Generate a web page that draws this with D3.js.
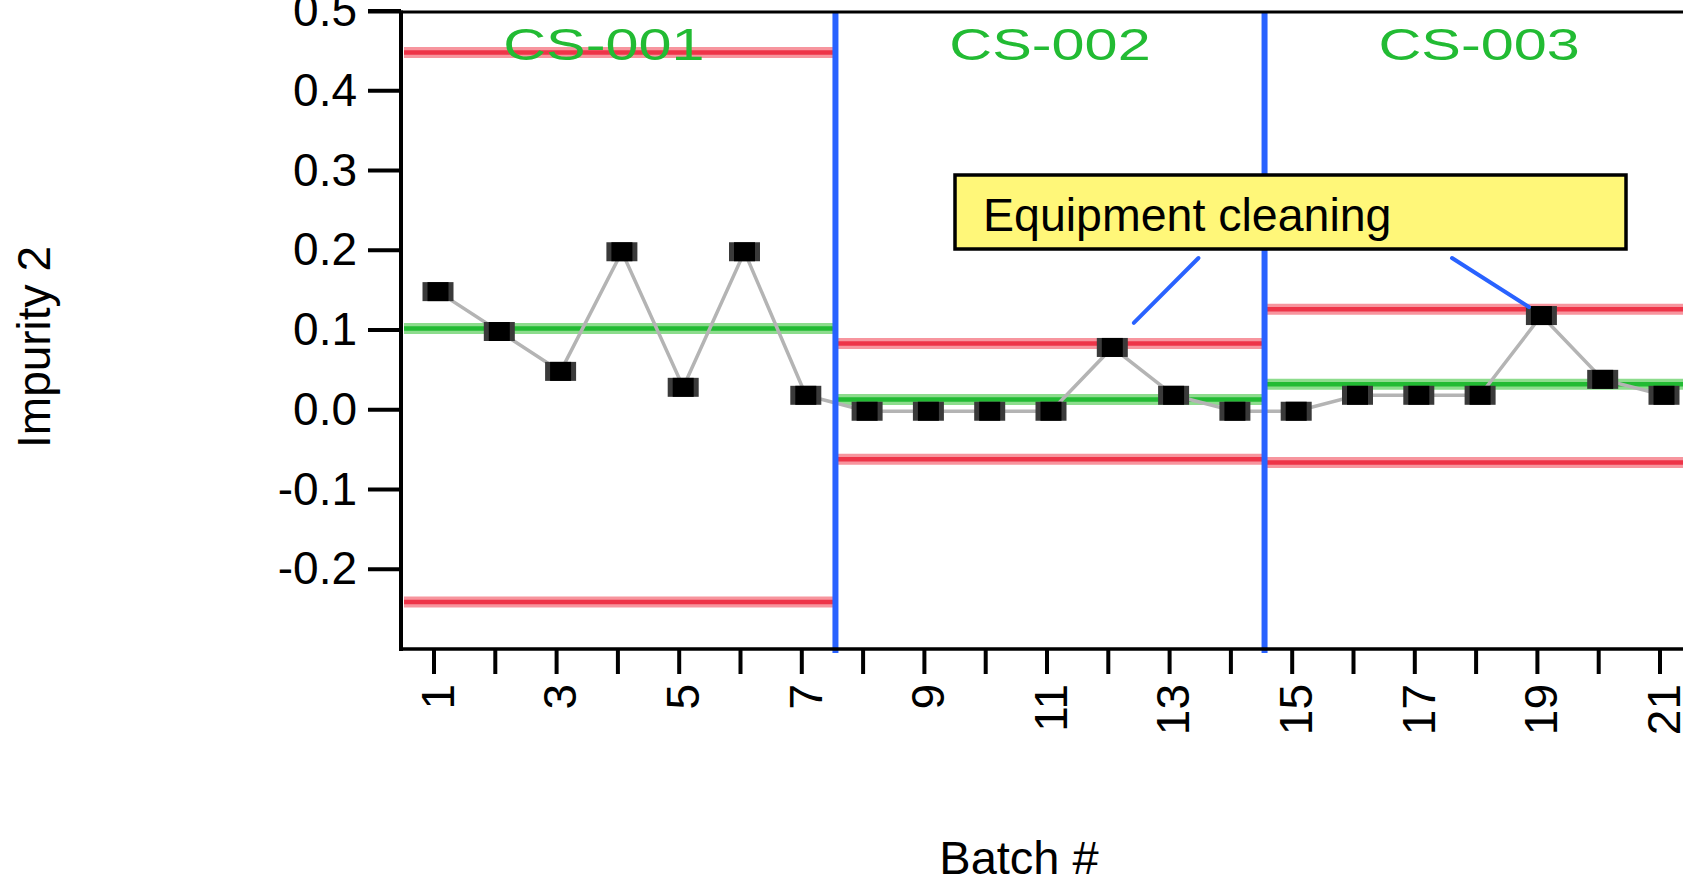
<!DOCTYPE html>
<html>
<head>
<meta charset="utf-8">
<script src="https://cdn.jsdelivr.net/npm/d3@7"></script>
<style>
  html, body { margin: 0; padding: 0; background: #fff; overflow: hidden; }
  svg { display: block; }
  text { font-family: "Liberation Sans", Arial, sans-serif; }
</style>
</head>
<body>
<svg id="chart" width="1683" height="877"></svg>
<script>

// batch numbers and measured impurity 2 values
const batches  = [1, 2, 3, 4, 5, 6, 7, 8, 9, 10, 11, 12, 13, 14, 15, 16, 17, 18, 19, 20, 21];
const impurity = [0.15, 0.10, 0.05, 0.20, 0.03, 0.20, 0.02,
                  0.00, 0.00, 0.00, 0.00, 0.08, 0.02, 0.00,
                  0.00, 0.02, 0.02, 0.02, 0.12, 0.04, 0.02];

// campaigns (limits per campaign)
const campaigns     = ['CS-001', 'CS-002', 'CS-003'];
const campaignStart = [0.5, 7.5, 14.5];
const campaignEnd   = [7.5, 14.5, 22.5];
const centerLine    = [0.102, 0.013, 0.032];
const upperLimit    = [0.448, 0.083, 0.126];
const lowerLimit    = [-0.241, -0.062, -0.066];

// axis ticks
const yTicks      = [-0.2, -0.1, 0.0, 0.1, 0.2, 0.3, 0.4, 0.5];
const xTicks      = batches;
const xTickLabels = [1, 3, 5, 7, 9, 11, 13, 15, 17, 19, 21];

// annotation
const noteText    = 'Equipment cleaning';
const noteBatches = [12, 19];

const W = 1683, H = 877;
const axisLeft = 401, axisBottom = 649, axisTop = 12;

const blue  = '#2962ff';
const green = '#22bb33';

const x = d3.scaleLinear().domain([1, 21]).range([434, 1660]);
const y = d3.scaleLinear().domain([-0.3, 0.5]).range([649, 11]);

const svg = d3.select('#chart');

//#region campaign limit lines
function limitLine(vals, core, halo) {
    campaigns.forEach((c, i) => {
        let x1 = i === 0 ? axisLeft + 3 : x(campaignStart[i]) + 3;
        let x2 = x(campaignEnd[i]) + 3;
        svg.append('line')
            .attr('x1', x1).attr('x2', x2)
            .attr('y1', y(vals[i])).attr('y2', y(vals[i]))
            .attr('stroke', halo).attr('stroke-width', 11);
        svg.append('line')
            .attr('x1', x1).attr('x2', x2)
            .attr('y1', y(vals[i])).attr('y2', y(vals[i]))
            .attr('stroke', core).attr('stroke-width', 4.5);
    });
}
limitLine(upperLimit, '#ee3448', '#f7959e');
limitLine(lowerLimit, '#ee3448', '#f7959e');
limitLine(centerLine, green, '#8ddc8d');
//#endregion

//#region data line and markers
const pts = svg.append('g').attr('transform', 'translate(4,1.5)');

pts.append('path')
    .datum(batches)
    .attr('fill', 'none')
    .attr('stroke', '#b4b4b4')
    .attr('stroke-width', 3.5)
    .attr('d', d3.line().x(d => x(d)).y((d, i) => y(impurity[i])));

pts.selectAll('.mk-out')
    .data(batches)
    .join('rect')
    .attr('x', d => x(d) - 15.5)
    .attr('y', (d, i) => y(impurity[i]) - 9.5)
    .attr('width', 31).attr('height', 19)
    .attr('fill', '#3a3a3a');

pts.selectAll('.mk-in')
    .data(batches)
    .join('rect')
    .attr('x', d => x(d) - 10.5)
    .attr('y', (d, i) => y(impurity[i]) - 9.5)
    .attr('width', 21).attr('height', 19)
    .attr('fill', '#000');
//#endregion

//#region campaign separators
campaignStart.slice(1).forEach(b => {
    svg.append('line')
        .attr('x1', x(b) + 3).attr('x2', x(b) + 3)
        .attr('y1', axisTop).attr('y2', 653)
        .attr('stroke', blue).attr('stroke-width', 6);
});
//#endregion

//#region axes
// top frame
svg.append('line')
    .attr('x1', 368).attr('x2', W)
    .attr('y1', axisTop).attr('y2', axisTop)
    .attr('stroke', '#000').attr('stroke-width', 3);

// y axis
svg.append('line')
    .attr('x1', axisLeft).attr('x2', axisLeft)
    .attr('y1', axisTop - 1.5).attr('y2', axisBottom + 2)
    .attr('stroke', '#000').attr('stroke-width', 4);

svg.selectAll('.ytick')
    .data(yTicks)
    .join('line')
    .attr('x1', 368).attr('x2', axisLeft)
    .attr('y1', d => y(d)).attr('y2', d => y(d))
    .attr('stroke', '#000').attr('stroke-width', 4);

svg.selectAll('.ylab')
    .data(yTicks)
    .join('text')
    .attr('x', 357)
    .attr('y', d => y(d))
    .attr('dy', '0.33em')
    .attr('text-anchor', 'end')
    .attr('font-size', 46)
    .text(d => d3.format('.1f')(d).replace('−', '-'));

// x axis
svg.append('line')
    .attr('x1', axisLeft - 2).attr('x2', W)
    .attr('y1', axisBottom).attr('y2', axisBottom)
    .attr('stroke', '#000').attr('stroke-width', 3.5);

svg.selectAll('.xtick')
    .data(xTicks)
    .join('line')
    .attr('x1', d => x(d)).attr('x2', d => x(d))
    .attr('y1', axisBottom).attr('y2', 674)
    .attr('stroke', '#000').attr('stroke-width', 4);

svg.selectAll('.xlab')
    .data(xTickLabels)
    .join('text')
    .attr('transform', d => `translate(${x(d)},684) rotate(-90)`)
    .attr('dy', '0.43em')
    .attr('text-anchor', 'end')
    .attr('font-size', 46)
    .text(d => d);

// axis titles
svg.append('text')
    .attr('transform', 'translate(50,347) rotate(-90)')
    .attr('text-anchor', 'middle')
    .attr('font-size', 46)
    .text('Impurity 2');

svg.append('text')
    .attr('x', 1019).attr('y', 874)
    .attr('text-anchor', 'middle')
    .attr('font-size', 47)
    .text('Batch #');
//#endregion

//#region annotation
svg.append('rect')
    .attr('x', 955).attr('y', 175)
    .attr('width', 671).attr('height', 74)
    .attr('fill', '#fff779')
    .attr('stroke', '#000').attr('stroke-width', 3.5);

svg.append('text')
    .attr('x', 983).attr('y', 231)
    .attr('font-size', 46.5)
    .text(noteText);

// callout lines from box to the flagged batches
const noteFrom = [[1198.5, 258], [1452, 258]];
const noteOff  = [[21.5, -24.5], [-12.5, -8.5]];
noteBatches.forEach((b, i) => {
    let v = impurity[batches.indexOf(b)];
    svg.append('line')
        .attr('x1', noteFrom[i][0]).attr('y1', noteFrom[i][1])
        .attr('x2', x(b) + 4 + noteOff[i][0])
        .attr('y2', y(v) + 1.5 + noteOff[i][1])
        .attr('stroke', blue).attr('stroke-width', 4)
        .attr('stroke-linecap', 'round');
});
//#endregion

//#region campaign labels
const labelNudge = [-17, 0, 0];
campaigns.forEach((c, i) => {
    let mid = (campaignStart[i] + Math.min(campaignEnd[i], 21.5)) / 2;
    svg.append('text')
        .attr('transform', `translate(${x(mid) + 3 + labelNudge[i]},60) scale(1.32,1)`)
        .attr('text-anchor', 'middle')
        .attr('font-family', '"DejaVu Sans Mono", monospace')
        .attr('font-size', 45)
        .attr('fill', green)
        .text(c);
});
//#endregion

</script>
</body>
</html>
